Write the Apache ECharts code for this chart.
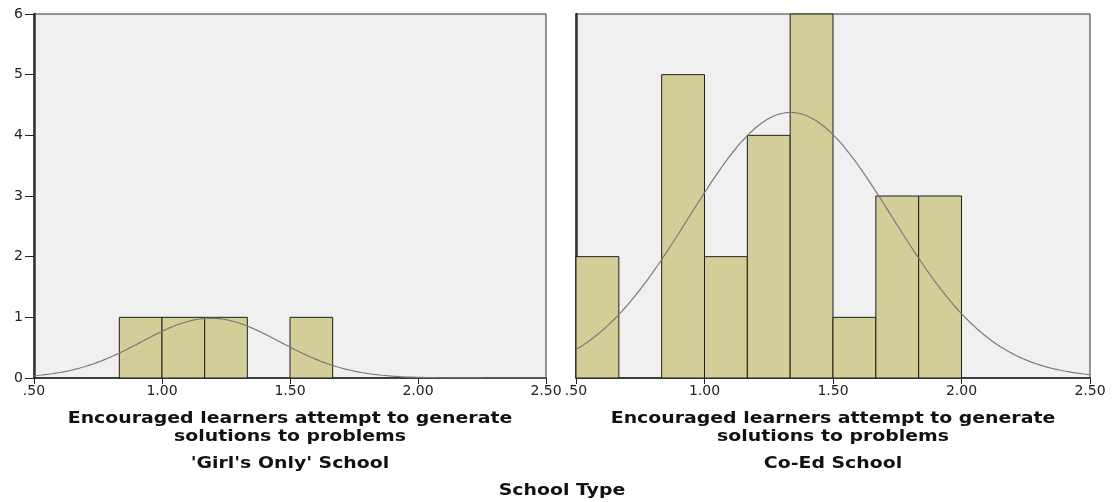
<!DOCTYPE html>
<html>
<head>
<meta charset="utf-8">
<script src="https://cdn.jsdelivr.net/npm/echarts@6/dist/echarts.min.js"></script>
<style>
  html, body { margin: 0; padding: 0; background: #fff; }
  #chart { width: 1113px; height: 502px; }
</style>
</head>
<body>
<div id="chart"></div>
<script>
// Histogram bins (width 1/6) and frequencies per school type
const binWidth = 1 / 6;
const binStarts = [0.5, 0.6667, 0.8333, 1.0, 1.1667, 1.3333, 1.5, 1.6667, 1.8333, 2.0, 2.1667, 2.3333];
const girlsCounts = [0, 0, 1, 1, 1, 0, 1, 0, 0, 0, 0, 0];
const coedCounts  = [2, 0, 5, 2, 4, 6, 1, 3, 3, 0, 0, 0];

// Fitted normal curve parameters (mean, std. deviation, N)
const girlsFit = { mean: 1.19, sd: 0.27, n: 4 };
const coedFit  = { mean: 1.335, sd: 0.395, n: 26 };

const xTicks = [0.5, 1.0, 1.5, 2.0, 2.5];
const xTickLabels = ['.50', '1.00', '1.50', '2.00', '2.50'];
const yTicks = [0, 1, 2, 3, 4, 5, 6];

const axisTitleLines = ['Encouraged learners attempt to generate', 'solutions to problems'];
const panelTitles = ["'Girl's Only' School", 'Co-Ed School'];
const groupTitle = 'School Type';

function curvePoints(fit) {
  const pts = [];
  for (let i = 0; i <= 200; i++) {
    const x = 0.5 + i * 0.01;
    const z = (x - fit.mean) / fit.sd;
    const y = fit.n * binWidth / (fit.sd * Math.sqrt(2 * Math.PI)) * Math.exp(-0.5 * z * z);
    pts.push([x, y]);
  }
  return pts;
}

function histData(counts) {
  return binStarts.map((s, i) => [s, s + binWidth, counts[i]]).filter(d => d[2] > 0);
}

function renderBar(params, api) {
  const p0 = api.coord([api.value(0), api.value(2)]);
  const p1 = api.coord([api.value(1), 0]);
  return {
    type: 'rect',
    shape: { x: p0[0], y: p0[1], width: p1[0] - p0[0], height: p1[1] - p0[1] },
    style: { fill: '#d3ce98', stroke: '#1e1e1e', lineWidth: 1 }
  };
}

const font = 'DejaVu Sans, Verdana, sans-serif';

function xAxis(idx) {
  return {
    type: 'value', gridIndex: idx, min: 0.5, max: 2.5, interval: 0.5,
    axisLine: { show: true, lineStyle: { color: '#222', width: 1.5 } },
    axisTick: { show: true, length: 6, lineStyle: { color: '#222' } },
    axisLabel: {
      fontFamily: font, fontSize: 14, color: '#222', margin: 6,
      formatter: v => xTickLabels[xTicks.indexOf(Math.round(v * 100) / 100)] || ''
    },
    splitLine: { show: false }
  };
}

function yAxis(idx, showLabels) {
  return {
    type: 'value', gridIndex: idx, min: 0, max: 6, interval: 1,
    axisLine: { show: true, lineStyle: { color: '#333', width: 2.5 } },
    axisTick: { show: showLabels, length: 9, lineStyle: { color: '#222' } },
    axisLabel: { show: showLabels, fontFamily: font, fontSize: 14, color: '#222', margin: 11,
      formatter: v => yTicks.includes(v) ? String(v) : '' },
    splitLine: { show: false }
  };
}

// Bold captions, slightly widened
function caption(text, x, y) {
  return {
    type: 'text', x: x, y: y, scaleX: 1.18, scaleY: 1,
    style: {
      text: text, fill: '#111', font: 'bold 16px ' + font,
      textAlign: 'center', textVerticalAlign: 'middle'
    }
  };
}

const chart = echarts.init(document.getElementById('chart'), null, { renderer: 'canvas' });
chart.setOption({
  animation: false,
  backgroundColor: '#ffffff',
  grid: [
    { left: 34, right: 567, top: 14, bottom: 124, show: true, backgroundColor: '#f0f0f0', borderColor: '#333', borderWidth: 1 },
    { left: 576, right: 23, top: 14, bottom: 124, show: true, backgroundColor: '#f0f0f0', borderColor: '#333', borderWidth: 1 }
  ],
  xAxis: [xAxis(0), xAxis(1)],
  yAxis: [yAxis(0, true), yAxis(1, false)],
  graphic: [
    caption(axisTitleLines[0], 290, 419),
    caption(axisTitleLines[1], 290, 437),
    caption(panelTitles[0], 290, 464),
    caption(axisTitleLines[0], 833, 419),
    caption(axisTitleLines[1], 833, 437),
    caption(panelTitles[1], 833, 464),
    caption(groupTitle, 562, 491)
  ],
  series: [
    { type: 'custom', xAxisIndex: 0, yAxisIndex: 0, renderItem: renderBar, data: histData(girlsCounts), z: 2 },
    { type: 'custom', xAxisIndex: 1, yAxisIndex: 1, renderItem: renderBar, data: histData(coedCounts), z: 2 },
    { type: 'line', xAxisIndex: 0, yAxisIndex: 0, data: curvePoints(girlsFit), showSymbol: false, smooth: false,
      lineStyle: { color: '#7a7a7a', width: 1.2 }, z: 3 },
    { type: 'line', xAxisIndex: 1, yAxisIndex: 1, data: curvePoints(coedFit), showSymbol: false, smooth: false,
      lineStyle: { color: '#7a7a7a', width: 1.2 }, z: 3 }
  ]
});
</script>
</body>
</html>
